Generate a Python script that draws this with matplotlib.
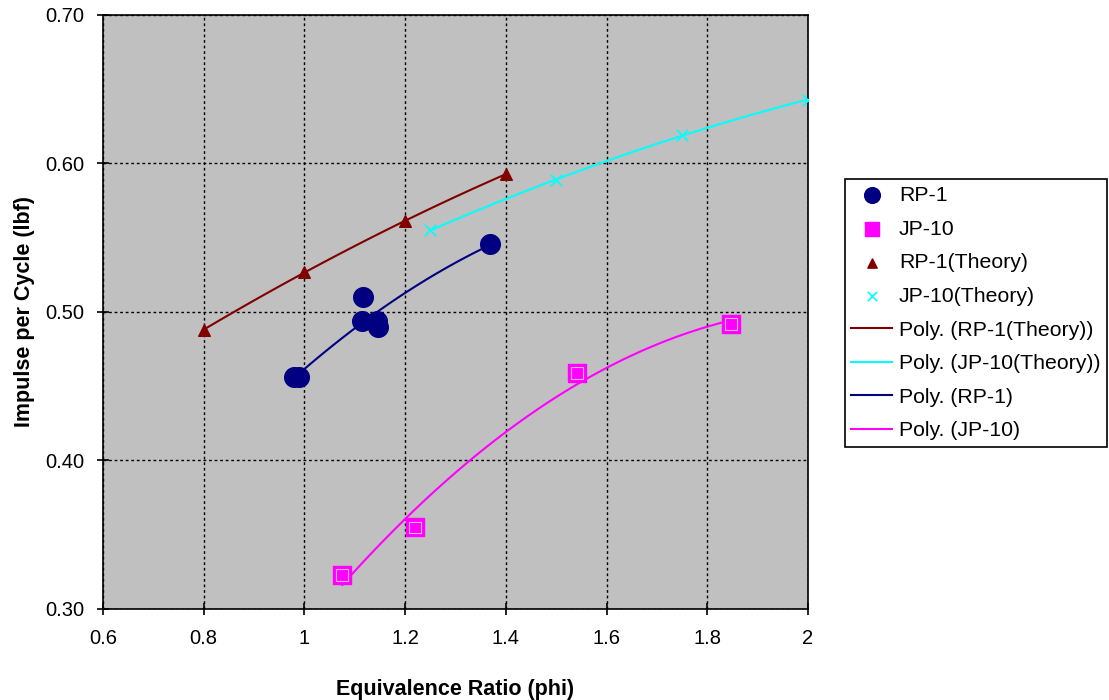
import numpy as np
import matplotlib
matplotlib.use("Agg")
from matplotlib import pyplot as plt

plt.rcParams['font.family'] = ['Liberation Sans', 'DejaVu Sans']

# measured data
rp1_x = [0.98, 0.99, 1.116, 1.114, 1.145, 1.147, 1.369]
rp1_y = [0.456, 0.456, 0.510, 0.494, 0.494, 0.490, 0.546]

jp10_x = [1.075, 1.22, 1.541, 1.847]
jp10_y = [0.323, 0.355, 0.459, 0.492]

rp1_th_x = [0.8, 1.0, 1.2, 1.4]
rp1_th_y = [0.488, 0.527, 0.561, 0.593]

jp10_th_x = [1.25, 1.5, 1.75, 2.0]
jp10_th_y = [0.555, 0.589, 0.619, 0.643]


def trend(x, y):
    c = np.polyfit(x, y, 2)
    xs = np.linspace(min(x), max(x), 100)
    return xs, np.polyval(c, xs)


fig = plt.figure(figsize=(11.09, 7), dpi=100)
ax = fig.add_axes([0.0929, 0.13, 0.6357, 0.8486])
ax.set_facecolor('#C0C0C0')

ax.scatter(rp1_x, rp1_y, s=200, color='#000080', marker='o', zorder=3, label='RP-1')
ax.scatter(jp10_x, jp10_y, s=170, color='#FF00FF', marker='s', edgecolors='#FF00FF',
           zorder=3, label='JP-10')
ax.scatter(jp10_x, jp10_y, s=70, marker='s', facecolors='none', edgecolors='#FFB0FF',
           linewidths=0.8, zorder=4)
ax.scatter(rp1_th_x, rp1_th_y, s=70, color='#800000', marker='^', zorder=3,
           label='RP-1(Theory)')
ax.scatter(jp10_th_x, jp10_th_y, s=70, color='#00FFFF', marker='x', linewidths=1.2,
           zorder=3, label='JP-10(Theory)')

xs, ys = trend(rp1_th_x, rp1_th_y)
ax.plot(xs, ys, color='#800000', lw=1.5, label='Poly. (RP-1(Theory))')
xs, ys = trend(jp10_th_x, jp10_th_y)
ax.plot(xs, ys, color='#00FFFF', lw=1.5, label='Poly. (JP-10(Theory))')
xs, ys = trend(rp1_x, rp1_y)
ax.plot(xs, ys, color='#000080', lw=1.5, label='Poly. (RP-1)')
xs, ys = trend(jp10_x, jp10_y)
ax.plot(xs, ys, color='#FF00FF', lw=1.5, label='Poly. (JP-10)')

ax.set_xlim(0.6, 2.0)
ax.set_ylim(0.30, 0.70)
ax.set_xticks([0.6, 0.8, 1.0, 1.2, 1.4, 1.6, 1.8, 2.0])
ax.set_xticklabels(['0.6', '0.8', '1', '1.2', '1.4', '1.6', '1.8', '2'])
ax.set_yticks([0.30, 0.40, 0.50, 0.60, 0.70])
ax.set_yticklabels(['0.30', '0.40', '0.50', '0.60', '0.70'])
ax.tick_params(labelsize=14.5, direction='inout', length=9, width=1.2)
ax.tick_params(axis='x', pad=10)
ax.tick_params(axis='y', pad=9)
ax.grid(True, color='black', linestyle=(0, (2, 2)), linewidth=1)
for s in ax.spines.values():
    s.set_color('black')
    s.set_linewidth(1.2)

ax.set_xlabel('Equivalence Ratio (phi)', fontsize=15.5, fontweight='bold', labelpad=22)
ax.set_ylabel('Impulse per Cycle (lbf)', fontsize=15.5, fontweight='bold', labelpad=7.5)

leg = ax.legend(loc='center left', bbox_to_anchor=(1.052, 0.498), fontsize=15.3,
                frameon=True, fancybox=False, edgecolor='black', framealpha=1,
                borderpad=0.3, labelspacing=0.69, handlelength=1.95,
                handletextpad=0.3, borderaxespad=0, markerscale=0.8)
leg.get_frame().set_linewidth(1.2)

fig.savefig('out.png', dpi=100)
